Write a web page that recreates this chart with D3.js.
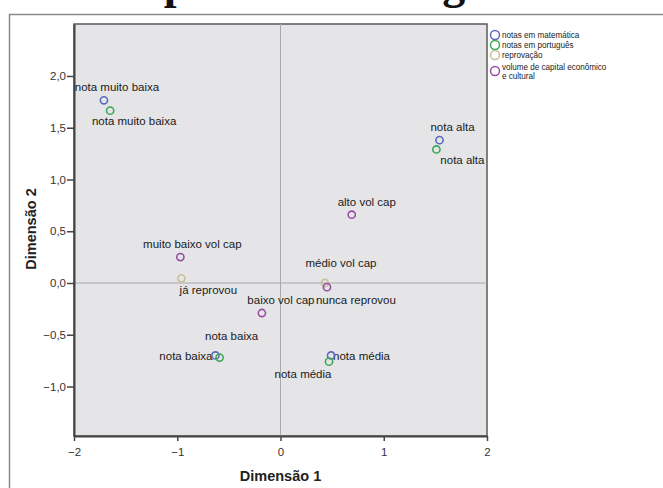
<!DOCTYPE html>
<html>
<head>
<meta charset="utf-8">
<script src="https://cdn.jsdelivr.net/npm/d3@7"></script>
<style>
  body { margin: 0; background: #fff; }
  svg { display: block; font-family: "Liberation Sans", Arial, sans-serif; }
</style>
</head>
<body>
<div id="chart"></div>
<script>
// series names (legend)
const seriesNames = ["notas em matemática", "notas em português", "reprovação", "volume de capital econômico e cultural"];

// notas em matemática
const mathLabels = ["nota muito baixa", "nota baixa", "nota média", "nota alta"];
const mathX = [-1.71, -0.63, 0.49, 1.54];
const mathY = [1.765, -0.70, -0.70, 1.38];

// notas em português
const portLabels = ["nota muito baixa", "nota baixa", "nota média", "nota alta"];
const portX = [-1.65, -0.59, 0.47, 1.51];
const portY = [1.665, -0.72, -0.76, 1.29];

// reprovação
const repLabels = ["já reprovou", "nunca reprovou"];
const repX = [-0.96, 0.43];
const repY = [0.045, 0.0];

// volume de capital
const capLabels = ["muito baixo vol cap", "baixo vol cap", "médio vol cap", "alto vol cap"];
const capX = [-0.97, -0.18, 0.45, 0.69];
const capY = [0.25, -0.29, -0.04, 0.66];

const xTicks = [-2, -1, 0, 1, 2];
const yTicks = [-1, -0.5, 0, 0.5, 1, 1.5, 2];

const colors = ["#5a6abf", "#3ba857", "#c9bf95", "#9a4ca4"];

// label placement (px offsets from each point, anchor)
const labelPos = [
  [[13, -9, "middle"], [-3, 5, "end"], [2, 5, "start"], [13, -9, "middle"]],
  [[24, 14, "middle"], [12, -18, "middle"], [-26, 16, "middle"], [26, 15, "middle"]],
  [[27, 16, "middle"], [31, 21, "middle"]],
  [[12, -9, "middle"], [19, -9, "middle"], [14, -20, "middle"], [15, -9, "middle"]]
];

const W = 663, H = 488;
const plot = { left: 74, right: 487, top: 24, bottom: 436 };

const svg = d3.select('#chart').append('svg')
  .attr('width', W)
  .attr('height', H);

// clipped title above the frame (only descenders show)
svg.append('text')
  .attr('x', -56)
  .attr('y', -2)
  .attr('font-family', '"Liberation Serif", "Times New Roman", serif')
  .attr('font-weight', 'bold')
  .attr('font-size', 46)
  .attr('fill', '#111')
  .text('Gráfico de pontos de categoria');

// outer frame
svg.append('rect')
  .attr('x', 9.5).attr('y', 14.5)
  .attr('width', 720).attr('height', 520)
  .attr('fill', 'none')
  .attr('stroke', '#8a8a8a')
  .attr('stroke-width', 1.5);

const x = d3.scaleLinear().domain([-2, 2]).range([plot.left, plot.right]);
const y = d3.scaleLinear().domain([-1.478, 2.502]).range([plot.bottom, plot.top]);

// plot background
svg.append('rect')
  .attr('x', plot.left).attr('y', plot.top)
  .attr('width', plot.right - plot.left)
  .attr('height', plot.bottom - plot.top)
  .attr('fill', '#e5e5e8')
  .attr('stroke', '#5a5a5a')
  .attr('stroke-width', 1.5);

// reference lines
svg.append('line')
  .attr('x1', x(0)).attr('x2', x(0))
  .attr('y1', plot.top).attr('y2', plot.bottom)
  .attr('stroke', '#a9a9ab').attr('stroke-width', 1);
svg.append('line')
  .attr('x1', plot.left).attr('x2', plot.right)
  .attr('y1', y(0)).attr('y2', y(0))
  .attr('stroke', '#a9a9ab').attr('stroke-width', 1);

// axes
const fmtY = d => d3.format('.1f')(d).replace('.', ',');

const gx = svg.append('g')
  .attr('transform', 'translate(0,' + plot.bottom + ')')
  .call(d3.axisBottom(x).tickValues(xTicks).tickSize(5).tickSizeOuter(0).tickFormat(d3.format('d')));

const gy = svg.append('g')
  .attr('transform', 'translate(' + plot.left + ',0)')
  .call(d3.axisLeft(y).tickValues(yTicks).tickSize(7).tickSizeOuter(0).tickFormat(fmtY));

[gx, gy].forEach(g => {
  g.select('.domain').attr('stroke', '#444').attr('stroke-width', 2);
  g.selectAll('.tick line').attr('stroke', '#444').attr('stroke-width', 1.5);
  g.selectAll('.tick text')
    .attr('fill', '#333')
    .attr('font-size', 11.5)
    .attr('font-family', '"Liberation Sans", Arial, sans-serif');
});
gx.selectAll('.tick text').attr('dy', '1em');
gy.selectAll('.tick text').attr('x', -8);

// axis titles
svg.append('text')
  .attr('x', x(0))
  .attr('y', 481)
  .attr('text-anchor', 'middle')
  .attr('font-weight', 'bold')
  .attr('font-size', 14.5)
  .attr('fill', '#222')
  .text('Dimensão 1');

svg.append('text')
  .attr('transform', 'translate(36,229) rotate(-90)')
  .attr('text-anchor', 'middle')
  .attr('font-weight', 'bold')
  .attr('font-size', 14.5)
  .attr('fill', '#222')
  .text('Dimensão 2');

// points and labels
const series = [
  { labels: mathLabels, xs: mathX, ys: mathY },
  { labels: portLabels, xs: portX, ys: portY },
  { labels: repLabels, xs: repX, ys: repY },
  { labels: capLabels, xs: capX, ys: capY }
];

// labels first, then markers on top
series.forEach((s, si) => {
  const rows = s.labels.map((l, i) => ({ label: l, x: s.xs[i], y: s.ys[i], pos: labelPos[si][i] }));
  svg.append('g').selectAll('text')
    .data(rows)
    .join('text')
    .attr('x', d => x(d.x) + d.pos[0])
    .attr('y', d => y(d.y) + d.pos[1])
    .attr('text-anchor', d => d.pos[2])
    .attr('font-size', 11.5)
    .attr('fill', '#1a1a1a')
    .text(d => d.label);
});

series.forEach((s, si) => {
  const rows = s.labels.map((l, i) => ({ x: s.xs[i], y: s.ys[i] }));
  svg.append('g').selectAll('circle')
    .data(rows)
    .join('circle')
    .attr('cx', d => x(d.x))
    .attr('cy', d => y(d.y))
    .attr('r', 3.6)
    .attr('fill', 'none')
    .attr('stroke', colors[si])
    .attr('stroke-width', 1.6);
});

// legend
const legend = svg.append('g').attr('transform', 'translate(495,35)');
const legendRows = [0, 10, 20, 36];
seriesNames.forEach((name, i) => {
  const g = legend.append('g').attr('transform', 'translate(0,' + legendRows[i] + ')');
  g.append('circle')
    .attr('r', 4.5)
    .attr('fill', 'none')
    .attr('stroke', colors[i])
    .attr('stroke-width', 1.5);
  const t = g.append('text')
    .attr('transform', 'translate(7,0) scale(0.88,1)')
    .attr('font-size', 9.2)
    .attr('fill', '#1a1a1a');
  if (i === 3) {
    t.append('tspan').attr('x', 0).attr('y', -1.5).text('volume de capital econômico');
    t.append('tspan').attr('x', 0).attr('y', 8.5).text('e cultural');
  } else {
    t.attr('y', 3.3).text(name);
  }
});
</script>
</body>
</html>
